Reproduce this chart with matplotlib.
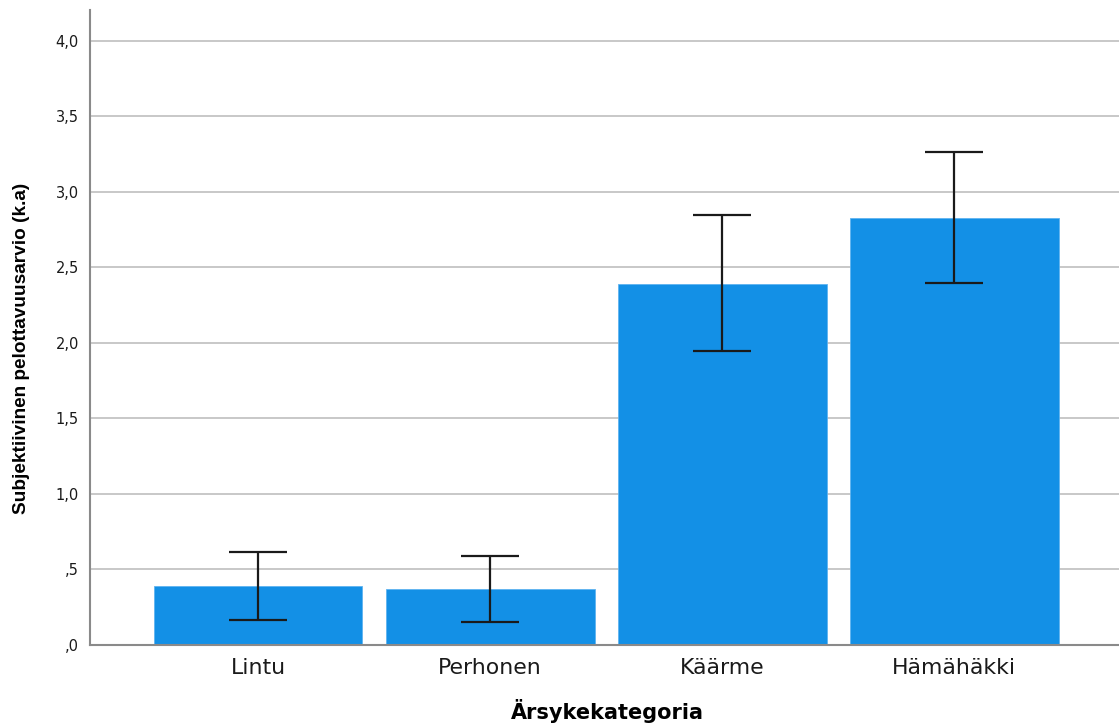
import matplotlib
matplotlib.use("Agg")
import matplotlib.pyplot as plt
import numpy as np

categories = ["Lintu", "Perhonen", "Käärme", "Hämähäkki"]
means = [0.39, 0.37, 2.39, 2.83]
ci_low = [0.165, 0.152, 1.947, 2.397]
ci_high = [0.616, 0.589, 2.848, 3.265]
ytick_vals = [0.0, 0.5, 1.0, 1.5, 2.0, 2.5, 3.0, 3.5, 4.0]
ytick_labels = [",0", ",5", "1,0", "1,5", "2,0", "2,5", "3,0", "3,5", "4,0"]

plt.rcParams['font.family'] = ['DejaVu Sans']

fig = plt.figure(figsize=(11.19, 7.25), dpi=100)
ax = fig.add_axes([90/1119, 80/725, 1 - 90/1119, (645-10)/725])

x = np.arange(len(categories))
ax.bar(x, means, width=0.9, color="#1390E6", edgecolor="#5fb3f0", linewidth=0.6, zorder=2)
means_a = np.array(means)
yerr = np.vstack([means_a - np.array(ci_low), np.array(ci_high) - means_a])
ax.errorbar(x, means, yerr=yerr, fmt="none", ecolor="#1a1a1a", elinewidth=1.6,
            capsize=21, capthick=1.6, zorder=3)

ax.set_xlim(-0.724, 3.71)
ax.set_ylim(0, 4.205)
ax.set_yticks(ytick_vals)
ax.set_yticklabels(ytick_labels, fontsize=10.5, color="#1a1a1a")
ax.set_xticks(x)
ax.set_xticklabels(categories, fontsize=15.8, color="#1a1a1a")
ax.tick_params(axis="both", length=0)
ax.tick_params(axis="y", pad=8)
ax.tick_params(axis="x", pad=9.5)
ax.yaxis.grid(True, color="#c4c4c4", linewidth=1.3, zorder=0)
ax.set_axisbelow(True)
for s in ["top", "right"]:
    ax.spines[s].set_visible(False)
for s in ["left", "bottom"]:
    ax.spines[s].set_color("#8a8a8a")
    ax.spines[s].set_linewidth(1.5)

fig.text(607/1119, 1 - 711/725, "Ärsykekategoria", fontsize=15, fontweight="bold",
         ha="center", va="center")
fig.text(22/1119, 1 - 348/725, "Subjektiivinen pelottavuusarvio (k.a)", fontsize=13.7,
         fontweight="bold", rotation=90, ha="center", va="center",
         family=['Liberation Sans', 'DejaVu Sans'])

fig.savefig("out.png", dpi=100)
